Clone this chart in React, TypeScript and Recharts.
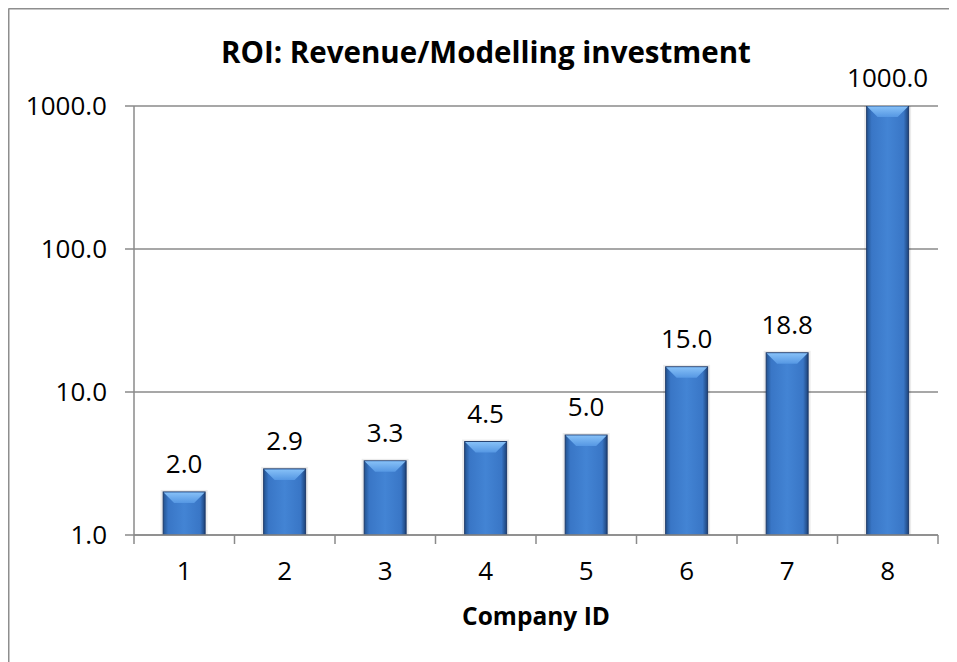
import { BarChart, Bar, XAxis, YAxis, CartesianGrid, LabelList, Customized } from 'recharts'

const companies = ['1', '2', '3', '4', '5', '6', '7', '8']
const roi = [2.0, 2.9, 3.3, 4.5, 5.0, 15.0, 18.8, 1000.0]
const yTicks = [1, 10, 100, 1000]
// tick marks sit between the categories, as in Excel
const edgeTicks = [-0.5, 0.5, 1.5, 2.5, 3.5, 4.5, 5.5, 6.5, 7.5]

const data = companies.map((id, i) => ({ id, roi: roi[i] }))

const FONT = '"Open Sans", "Noto Sans", sans-serif'
const GRID = '#8a8a8a'

function BevelBar(props: any) {
  const { x, y, width, height } = props
  if (!height || height <= 0) return null
  const b = Math.min(11, height / 2, width / 2)
  return (
    <g>
      <rect x={x - 1.5} y={y - 1} width={width + 3} height={height + 1.5} fill="none" stroke="rgba(0,0,0,0.08)" strokeWidth={2} />
      <rect x={x} y={y} width={width} height={height} fill="url(#barBody)" stroke="#1c3867" strokeWidth={1} />
      <polygon
        points={`${x + 0.5},${y + 0.5} ${x + width - 0.5},${y + 0.5} ${x + width - b},${y + b} ${x + b},${y + b}`}
        fill="url(#barTop)"
      />
    </g>
  )
}

// title and the outer chart border (only its left and top edges fall inside the picture)
function Frame() {
  return (
    <g>
      <line x1={0.5} y1={0.5} x2={957} y2={0.5} stroke="#8e8e8e" strokeWidth={2} />
      <line x1={0.5} y1={0.5} x2={0.5} y2={662} stroke="#8e8e8e" strokeWidth={2} />
      <text x={478} y={55} textAnchor="middle" fontFamily={FONT} fontWeight="bold" fontSize={29.5} fill="#000">
        ROI: Revenue/Modelling investment
      </text>
    </g>
  )
}

export default function App() {
  return (
    <div style={{ width: 949, height: 654, background: '#fff' }}>
      <BarChart
        width={949}
        height={654}
        data={data}
        margin={{ top: 98, right: 19, left: 0, bottom: 35 }}
        barCategoryGap="29%"
      >
        <defs>
          <linearGradient id="barBody" x1="0" y1="0" x2="1" y2="0">
            <stop offset="0%" stopColor="#22528f" />
            <stop offset="12%" stopColor="#3976c6" />
            <stop offset="50%" stopColor="#4384d4" />
            <stop offset="88%" stopColor="#3976c6" />
            <stop offset="100%" stopColor="#1d4278" />
          </linearGradient>
          <linearGradient id="barTop" x1="0" y1="0" x2="0" y2="1">
            <stop offset="0%" stopColor="#86c0f7" />
            <stop offset="100%" stopColor="#5597e3" />
          </linearGradient>
        </defs>
        <Customized component={Frame} />
        <CartesianGrid vertical={false} stroke={GRID} strokeWidth={1.5} />
        <XAxis
          xAxisId={0}
          type="number"
          dataKey={(d: any) => companies.indexOf(d.id)}
          domain={[-0.5, 7.5]}
          ticks={edgeTicks}
          interval={0}
          tick={() => <g />}
          tickSize={9}
          height={9}
          allowDataOverflow
          axisLine={{ stroke: GRID, strokeWidth: 1.5 }}
          tickLine={{ stroke: GRID, strokeWidth: 1.5 }}
        />
        <XAxis
          xAxisId="cat"
          dataKey="id"
          height={83}
          axisLine={false}
          tickLine={false}
          tickSize={0}
          tickMargin={18}
          tick={{ fontFamily: FONT, fontSize: 26, fill: '#000' }}
          label={{
            value: 'Company ID',
            position: 'insideBottom',
            offset: 2,
            fontFamily: FONT,
            fontWeight: 'bold',
            fontSize: 24.5,
            fill: '#000',
          }}
        />
        <YAxis
          scale="log"
          domain={[1, 1000]}
          ticks={yTicks}
          allowDataOverflow
          width={126}
          tickSize={9}
          tickMargin={18}
          tickFormatter={(v: number) => v.toFixed(1)}
          tick={{ fontFamily: FONT, fontSize: 26, fill: '#000' }}
          axisLine={{ stroke: GRID, strokeWidth: 1.5 }}
          tickLine={{ stroke: GRID, strokeWidth: 1.5 }}
        />
        <Bar xAxisId="cat" dataKey="roi" shape={<BevelBar />} isAnimationActive={false}>
          <LabelList
            dataKey="roi"
            position="top"
            offset={19}
            formatter={(v: any) => Number(v).toFixed(1)}
            style={{ fontFamily: FONT, fontSize: 26, fill: '#000' }}
          />
        </Bar>
      </BarChart>
    </div>
  )
}
